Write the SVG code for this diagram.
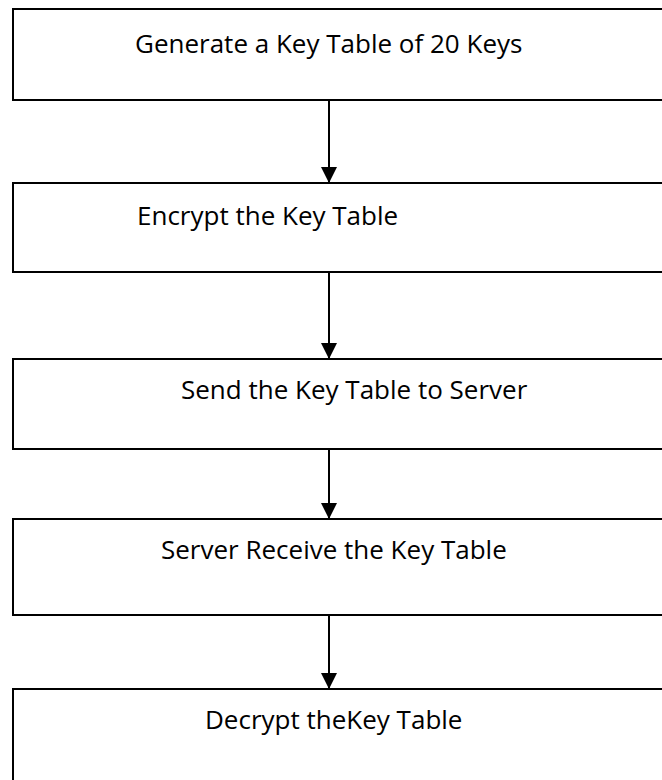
<svg xmlns="http://www.w3.org/2000/svg" width="662" height="780" viewBox="0 0 662 780">
<style>
.box{fill:#fff;stroke:#000;stroke-width:2}
.lbl{font-family:"Open Sans","Liberation Sans",sans-serif;font-size:26px;fill:#000}
.conn{stroke:#000;stroke-width:2;fill:none}
</style>
<defs>
<marker id="ah" markerUnits="userSpaceOnUse" markerWidth="16" markerHeight="16" refX="16" refY="8" orient="auto">
<path d="M0,0 L16,8 L0,16 Z" fill="#000"/>
</marker>
</defs>
<rect width="662" height="780" fill="#fff"/>
<g id="n1"><rect class="box" x="13" y="9" width="680" height="91"/><text class="lbl" x="135" y="53">Generate a Key Table of 20 Keys</text></g>
<g id="n2"><rect class="box" x="13" y="183" width="680" height="89"/><text class="lbl" x="137" y="225">Encrypt the Key Table</text></g>
<g id="n3"><rect class="box" x="13" y="359" width="680" height="90"/><text class="lbl" x="181" y="399">Send the Key Table to Server</text></g>
<g id="n4"><rect class="box" x="13" y="519" width="680" height="96"/><text class="lbl" x="161" y="559">Server Receive the Key Table</text></g>
<g id="n5"><rect class="box" x="13" y="689" width="680" height="120"/><text class="lbl" x="205" y="729">Decrypt theKey Table</text></g>
<g id="connectors">
<line class="conn" x1="329" y1="100" x2="329" y2="183" marker-end="url(#ah)"/>
<line class="conn" x1="329" y1="272" x2="329" y2="359" marker-end="url(#ah)"/>
<line class="conn" x1="329" y1="449" x2="329" y2="519" marker-end="url(#ah)"/>
<line class="conn" x1="329" y1="615" x2="329" y2="689" marker-end="url(#ah)"/>
</g>
</svg>
